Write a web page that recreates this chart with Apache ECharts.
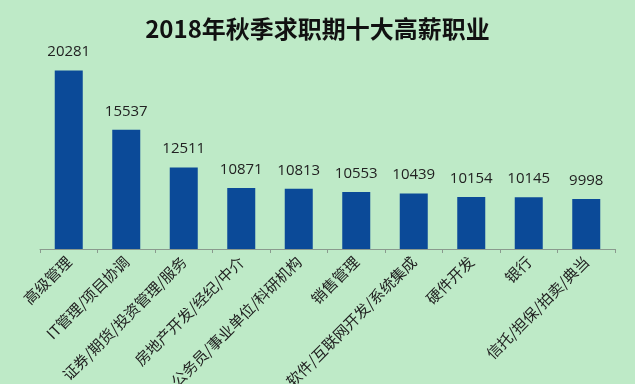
<!DOCTYPE html>
<html><head><meta charset="utf-8">
<script src="https://cdn.jsdelivr.net/npm/echarts@6/dist/echarts.min.js"></script>
<style>html,body{margin:0;padding:0;background:#BEEAC7;}#c{width:635px;height:384px;}</style>
</head><body><div id="c"></div>
<script>
var categories = ['高级管理','IT管理/项目协调','证券/期货/投资管理/服务','房地产开发/经纪/中介','公务员/事业单位/科研机构','销售管理','软件/互联网开发/系统集成','硬件开发','银行','信托/担保/拍卖/典当'];
var salaries = [20281,15537,12511,10871,10813,10553,10439,10154,10145,9998];
var titleText = '2018年秋季求职期十大高薪职业';
var chart = echarts.init(document.getElementById('c'));
chart.setOption({
  backgroundColor:'#BEEAC7',
  animation:false,
  title:{text:titleText,left:'center',top:12,textStyle:{fontSize:24,fontWeight:'bold',color:'#111',fontFamily:'Noto Sans CJK SC'}},
  grid:{left:40,right:20,top:49,bottom:135,containLabel:false,outerBoundsMode:'none'},
  xAxis:{type:'category',data:categories,
    axisLine:{lineStyle:{color:'#8a9a8e',width:1}},
    axisTick:{show:true,length:4,alignWithLabel:false,lineStyle:{color:'#8a9a8e'}},
    axisLabel:{rotate:45,interval:0,margin:10,fontSize:15,color:'#222',fontFamily:'Noto Sans CJK SC'}},
  yAxis:{type:'value',min:6000,max:22000,show:false,splitLine:{show:false}},
  series:[{type:'bar',data:salaries,barWidth:28,itemStyle:{color:'#0B4A98'},
    label:{show:true,position:'top',distance:11,fontSize:15,color:'#222',fontFamily:'Open Sans'}}]
});
</script></body></html>
